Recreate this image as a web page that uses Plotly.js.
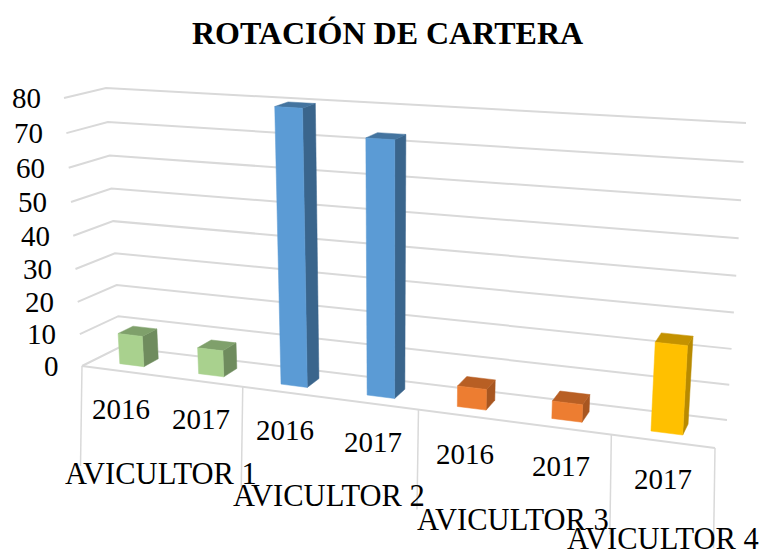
<!DOCTYPE html>
<html>
<head>
<meta charset="utf-8">
<script src="https://cdn.plot.ly/plotly-3.0.1.min.js"></script>
<style>html,body{margin:0;padding:0;background:#fff}</style>
</head>
<body>
<div id="chart" style="width:759px;height:550px"></div>
<script>
// ---- data ----
const groups = ['AVICULTOR 1', 'AVICULTOR 2', 'AVICULTOR 3', 'AVICULTOR 4'];
const groupSpans = [2, 2, 2, 1];
const years = ['2016', '2017', '2016', '2017', '2016', '2017', '2017'];
const values = [9.5, 8, 80, 73, 6, 5, 24.5];
const yTicks = [0, 10, 20, 30, 40, 50, 60, 70, 80];
const titleText = 'ROTACIÓN DE CARTERA';

// ---- styles ----
const frontColors = ['#A9D18E', '#A9D18E', '#5B9BD5', '#5B9BD5', '#ED7D31', '#ED7D31', '#FFC000'];
const sideColors  = ['#6F8C5E', '#6F8C5E', '#3A658C', '#3A658C', '#A85620', '#A85620', '#B88A00'];
const topColors   = ['#7FA06B', '#7FA06B', '#44749F', '#44749F', '#B85F24', '#B85F24', '#C49200'];
const gridColor = '#D9D9D9';
const serif = '"Liberation Serif", "Times New Roman", serif';

// ---- oblique 3-D box of the chart, projected on the page ----
const zMax = 80, slots = years.length;
const box = {
  fl0: [82, 366], fl1: [64, 98], bl0: [120, 347], bl1: [106, 88],
  fr0: [715, 448], fr1: [733, 138], br0: [727, 420], br1: [746, 123]
};
const lerp = (a, b, t) => [a[0] + (b[0] - a[0]) * t, a[1] + (b[1] - a[1]) * t];
function project(slot, depth, z) {
  const s = slot / slots;
  const u = s / (1 + 0.175 * (1 - s));
  const r = z / zMax;
  const t = r - 0.056 * r * (1 - r);
  const f0 = lerp(box.fl0, box.fr0, u), f1 = lerp(box.fl1, box.fr1, u);
  const b0 = lerp(box.bl0, box.br0, u), b1 = lerp(box.bl1, box.br1, u);
  return lerp(lerp(f0, f1, t), lerp(b0, b1, t), depth);
}
function poly(points, fill, lineColor, lineWidth, name) {
  const closed = fill ? points.concat([points[0]]) : points;
  return {
    type: 'scatter', mode: 'lines', name: name || '', hoverinfo: 'skip', showlegend: false,
    x: closed.map(p => p[0]), y: closed.map(p => p[1]),
    fill: fill ? 'toself' : 'none', fillcolor: fill || undefined,
    line: { color: lineColor, width: lineWidth }
  };
}

const traces = [];
// gridlines: left wall + back wall
yTicks.forEach(z => {
  traces.push(poly([project(0, 0, z), project(0, 1, z), project(slots, 1, z)], null, gridColor, 2, 'grid ' + z));
});
// category axis: front edge and separators dropping below it
traces.push(poly([project(0, 0, 0), project(slots, 0, 0)], null, gridColor, 2, 'axis'));
const drop = 100;
let edge = 0;
[0].concat(groupSpans).forEach((span, i) => {
  edge += span;
  const p = project(edge, 0, 0);
  traces.push(poly([p, [p[0] - 1.5, p[1] + drop]], null, gridColor, 1.5, 'separator ' + i));
});
// columns
const halfW = 0.155, d0 = 0.3, d1 = 0.7;
values.forEach((v, i) => {
  const a = i + 0.5 - halfW, b = i + 0.5 + halfW;
  const nm = groups[Math.min(Math.floor(i / 2), 3)] + ' ' + years[i];
  traces.push(poly([project(b, d0, 0), project(b, d1, 0), project(b, d1, v), project(b, d0, v)], sideColors[i], sideColors[i], 0.5, nm));
  traces.push(poly([project(a, d0, v), project(b, d0, v), project(b, d1, v), project(a, d1, v)], topColors[i], topColors[i], 0.5, nm));
  traces.push(poly([project(a, d0, 0), project(b, d0, 0), project(b, d0, v), project(a, d0, v)], frontColors[i], frontColors[i], 0.5, nm));
});

// ---- texts ----
const annotations = [];
const label = (x, y, text, anchor, size) => annotations.push({
  x, y, text, xref: 'x', yref: 'y', showarrow: false, xanchor: anchor || 'center', yanchor: 'middle',
  font: { family: serif, size: size || 29, color: '#000' }
});
yTicks.forEach(z => {
  const p = project(0, 0, z);
  label(p[0] - 21.5, p[1], String(z), 'right');
});
years.forEach((y, i) => {
  const p = project(i + 0.5, 0, 0);
  label(p[0], p[1] + 38, y);
});
let start = 0;
groups.forEach((g, i) => {
  const p = project(start + groupSpans[i] / 2, 0, 0);
  label(p[0], p[1] + 98, g, 'center', 30.5);
  start += groupSpans[i];
});

const layout = {
  width: 759, height: 550, autosize: false,
  margin: { l: 0, r: 0, t: 0, b: 0 },
  paper_bgcolor: '#fff', plot_bgcolor: '#fff', showlegend: false,
  title: {
    text: '<b>' + titleText + '</b>', x: 387.5 / 759, xanchor: 'center', y: 1 - 33 / 550, yanchor: 'middle',
    font: { family: serif, size: 32, color: '#000' }
  },
  xaxis: { visible: false, range: [0, 759], fixedrange: true },
  yaxis: { visible: false, range: [550, 0], fixedrange: true },
  annotations
};
Plotly.newPlot('chart', traces, layout, { displayModeBar: false, staticPlot: true });
</script>
</body>
</html>
